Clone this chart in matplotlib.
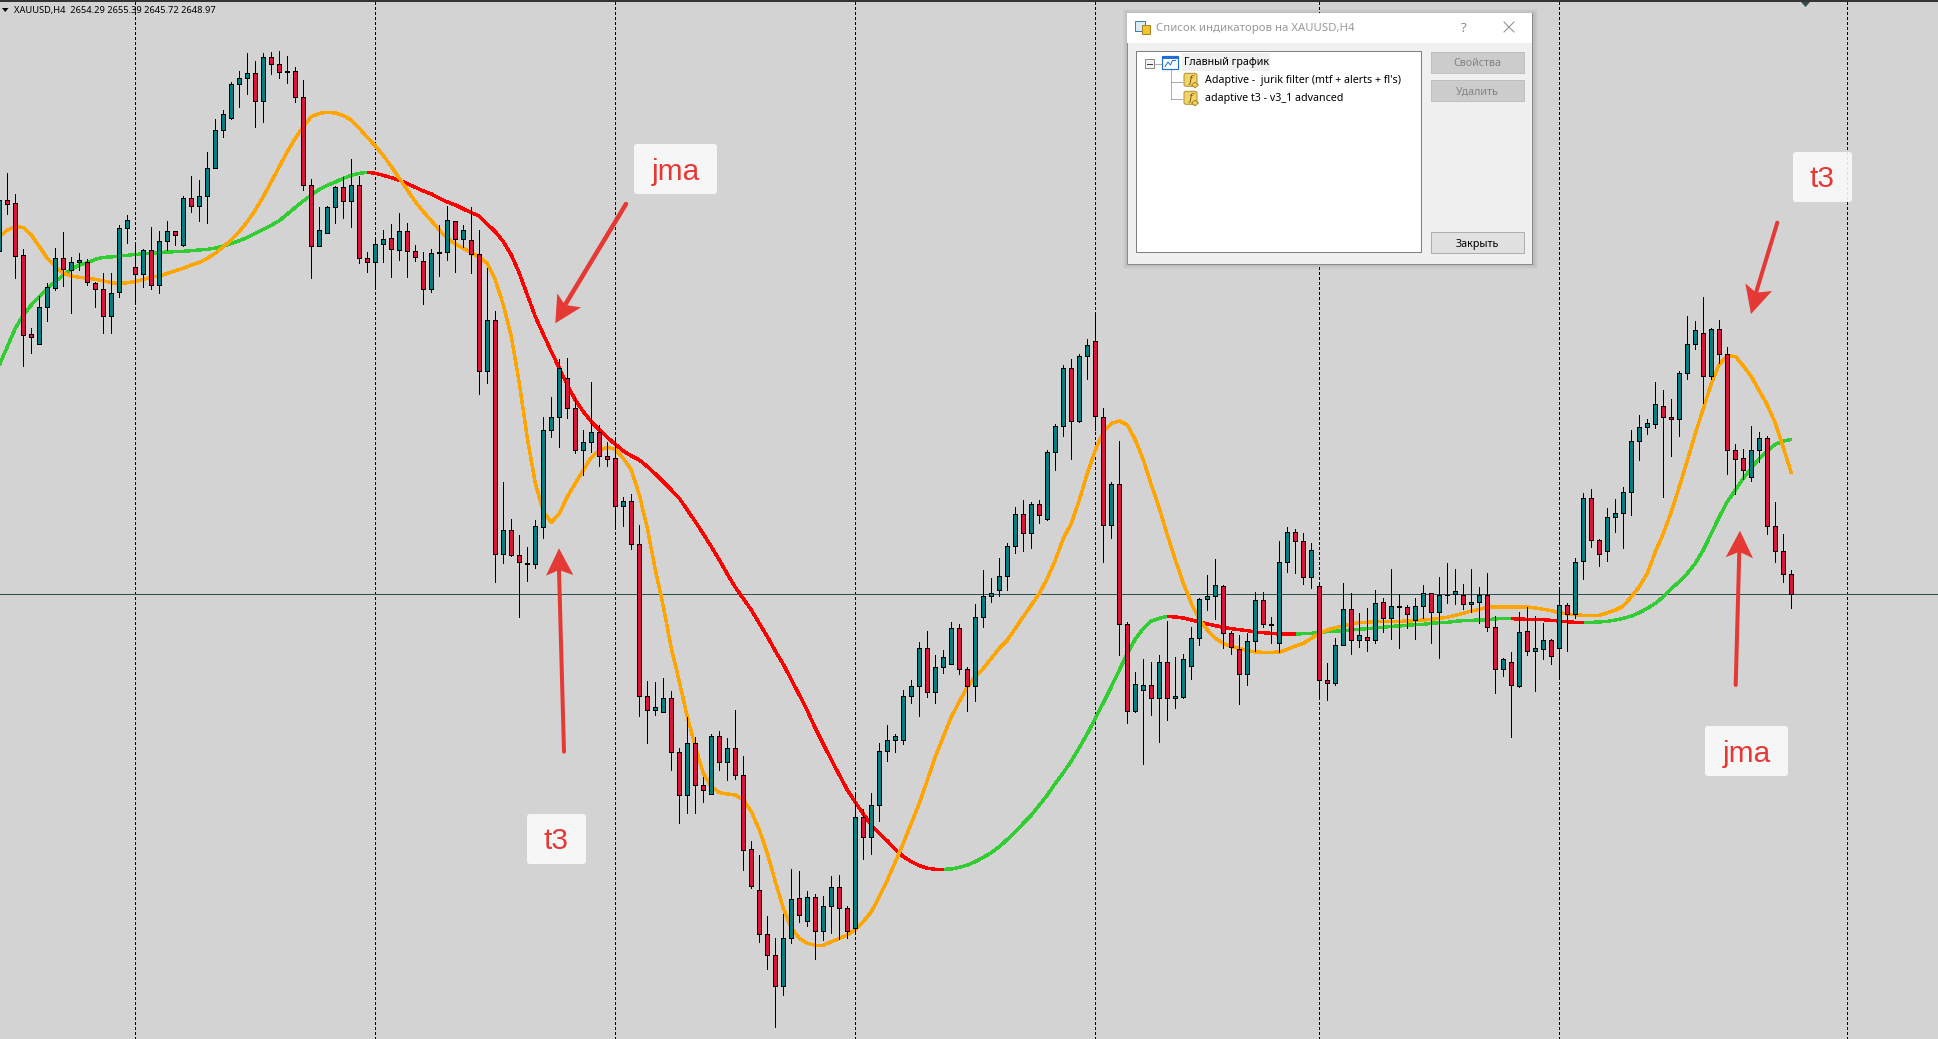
# -*- coding: utf-8 -*-
import numpy as np
import matplotlib
matplotlib.use('Agg')
import matplotlib.pyplot as plt
from matplotlib.patches import Rectangle, Polygon, FancyBboxPatch

# levels are chart ticks above the last close (about 11.55 ticks per USD)
LAST_CLOSE = 2648.97
TICKS_PER_USD = 11.55

symbol_text = 'XAUUSD,H4  2654.29 2655.39 2645.72 2648.97'
dialog_title = 'Список индикаторов на XAUUSD,H4'
tree_labels = ['Главный график', "Adaptive -  jurik filter (mtf + alerts + fl's)", 'adaptive t3 - v3_1 advanced']
button_labels = ['Свойства', 'Удалить', 'Закрыть']

body_top = [
    1183,1182,1173,1017,780,861,921,1008,1008,996,
    1002,996,933,915,903,1098,1122,981,1032,1032,
    1059,1089,1089,1188,1188,1194,1278,1392,1440,1530,
    1548,1563,1563,1611,1611,1590,1569,1569,1491,1227,
    1092,1161,1221,1221,1227,1227,1008,1050,1065,1068,
    1089,1089,1029,999,1023,1026,1122,1119,1092,1062,
    1020,822,822,192,192,117,95,204,492,531,
    678,648,558,456,486,486,414,408,279,279,
    150,-306,-339,-312,-312,-474,-447,-447,-573,-426,
    -426,-462,-462,-543,-765,-888,-1020,-1083,-1032,-915,
    -912,-909,-909,-936,-879,-879,-942,-669,-669,-633,
    -471,-438,-426,-306,-276,-162,-162,-219,-189,-102,
    -102,-225,-69,-6,3,54,144,240,240,270,
    270,426,504,678,678,714,747,759,531,330,
    330,-90,-270,-273,-273,-204,-204,-306,-195,-132,
    -15,-6,27,24,-117,-165,-141,-18,-18,-89,
    96,186,186,159,132,24,-258,-153,-45,-45,
    -123,-129,-27,-24,-36,-36,-39,-36,3,3,
    -3,-1,9,-3,-24,-3,-3,-99,-195,-204,
    -114,-111,-162,-138,-138,-33,-33,96,288,288,
    162,231,243,306,459,501,513,570,564,531,
    663,750,792,783,795,795,720,432,408,432,
    468,468,204,129,60]
body_bot = [
    1031,1172,1016,779,773,752,861,920,975,974,
    996,936,915,834,834,906,1098,960,960,927,
    927,1059,1077,1047,1164,1164,1194,1278,1392,1428,
    1530,1548,1479,1479,1590,1566,1566,1491,1227,1044,
    1044,1083,1161,1179,1179,1008,996,996,1050,1035,
    1032,1029,1011,915,915,1023,1026,1065,1065,1020,
    669,669,122,122,119,96,92,92,201,492,
    531,560,432,432,456,414,405,264,264,150,
    -306,-348,-348,-354,-474,-603,-603,-573,-586,-600,
    -504,-504,-543,-768,-874,-1020,-1083,-1176,-1176,-1032,
    -963,-981,-1011,-1011,-936,-942,-1011,-1002,-729,-729,
    -633,-471,-438,-438,-306,-276,-294,-294,-219,-210,
    -225,-276,-276,-69,-6,12,54,144,183,183,
    237,225,426,504,519,519,714,534,207,207,
    -90,-351,-351,-288,-312,-312,-312,-312,-309,-216,
    -132,-15,-6,-117,-159,-240,-240,-141,-90,-91,
    -147,96,159,51,51,-258,-267,-267,-153,-138,
    -138,-138,-138,-72,-72,-39,-60,-78,-36,-54,
    -54,-3,0,-30,-30,-24,-99,-225,-225,-273,
    -276,-171,-171,-165,-186,-162,-60,-60,99,162,
    122,129,231,243,306,459,501,510,531,525,
    525,663,750,654,654,720,432,405,372,351,
    432,204,129,60,0]
wick_high = [
    1263,1264,1201,1036,799,895,933,1039,1086,1013,
    1023,1005,936,963,963,1107,1138,1058,1035,1101,
    1089,1120,1089,1195,1255,1243,1326,1425,1453,1536,
    1570,1625,1600,1625,1627,1630,1615,1581,1543,1245,
    1161,1165,1225,1253,1305,1255,1026,1063,1093,1111,
    1143,1113,1047,1027,1035,1108,1165,1119,1108,1161,
    1093,978,849,336,226,178,141,222,531,591,
    705,708,591,492,637,507,456,465,291,301,
    208,-260,-263,-251,-290,-461,-369,-429,-549,-420,
    -411,-431,-347,-485,-741,-782,-965,-1032,-960,-824,
    -830,-891,-900,-906,-845,-842,-935,-597,-645,-597,
    -447,-392,-419,-288,-257,-144,-110,-182,-167,-83,
    -90,-219,-29,73,48,108,153,261,282,276,
    282,432,510,687,705,720,766,843,558,336,
    460,-84,-234,-195,-204,-183,-80,-189,-180,-99,
    -12,57,105,27,-111,-123,-117,6,6,-69,
    159,201,195,183,153,33,-207,-132,33,3,
    -57,-42,13,-12,75,0,-33,-12,28,3,
    51,93,75,31,75,21,63,-66,-192,-174,
    -53,-39,-66,-87,-135,18,-27,108,303,315,
    165,258,285,321,492,537,525,636,612,585,
    669,835,820,891,798,822,741,450,435,504,
    486,474,276,180,72]
wick_low = [
    1013,1141,950,686,725,752,821,914,926,845,
    973,929,863,783,785,893,1053,873,923,915,
    905,1033,1048,1046,1148,1121,1115,1278,1373,1425,
    1461,1502,1403,1418,1562,1550,1535,1476,1214,950,
    1044,1083,1115,1130,1103,993,968,925,998,953,
    1003,951,1001,872,908,956,1003,968,1043,965,
    601,633,38,95,115,-67,41,79,169,473,
    443,530,425,358,426,386,386,199,206,137,
    -365,-445,-361,-354,-527,-685,-655,-655,-622,-600,
    -527,-557,-555,-827,-880,-1042,-1123,-1297,-1201,-1045,
    -983,-994,-1093,-1037,-1015,-1035,-1032,-1017,-793,-778,
    -679,-499,-472,-448,-325,-364,-307,-325,-235,-210,
    -238,-349,-319,-97,-22,-4,13,125,131,140,
    215,222,373,476,407,516,647,493,98,170,
    -181,-387,-354,-509,-361,-442,-376,-340,-312,-255,
    -153,-47,-74,-160,-178,-328,-271,-171,-99,-147,
    -174,66,63,30,18,-305,-316,-273,-153,-180,
    -159,-171,-147,-114,-134,-162,-102,-134,-72,-145,
    -192,-25,-28,-45,-52,-85,-109,-295,-244,-427,
    -279,-181,-289,-194,-209,-252,-169,-71,47,143,
    86,101,188,140,239,404,482,500,293,416,
    476,645,737,573,645,693,362,300,346,339,
    396,182,96,36,-40]
falling_bars = [1,2,3,4,8,11,12,13,17,19,22,24,32,34,35,36,37,38,39,43,45,46,49,51,52,53,57,59,60,
                62,64,65,66,71,72,75,76,77,79,80,81,84,85,87,88,90,92,93,94,95,96,97,100,102,105,106,
                108,116,120,121,128,130,134,137,138,140,141,144,146,153,154,155,158,159,162,163,165,
                166,169,171,173,175,176,179,183,186,187,189,191,194,196,199,200,208,209,213,215,216,
                217,218,221,222,223,224]

t3_line = [
    1073,1093,1102,1101,1078,1043,1008,983,963,955,
    951,948,945,940,935,932,935,938,945,952,
    955,963,971,978,988,996,1008,1023,1043,1063,
    1088,1118,1153,1193,1238,1283,1328,1368,1403,1433,
    1443,1446,1444,1436,1423,1398,1371,1345,1316,1283,
    1248,1213,1178,1148,1121,1093,1068,1051,1038,1025,
    1011,993,943,868,773,633,468,333,248,216,
    243,293,333,373,411,433,441,435,408,373,
    298,198,73,-37,-162,-262,-369,-457,-537,-577,
    -595,-599,-602,-617,-652,-707,-777,-862,-942,-1002,
    -1032,-1047,-1053,-1053,-1042,-1032,-1022,-1005,-982,-952,
    -907,-857,-802,-747,-687,-627,-557,-487,-427,-367,
    -322,-277,-247,-222,-192,-162,-137,-102,-67,-32,
    3,48,103,168,213,283,363,433,488,513,
    520,508,463,403,328,258,178,103,33,-27,
    -77,-107,-132,-147,-157,-162,-169,-173,-174,-174,
    -173,-165,-155,-147,-132,-117,-107,-100,-94,-90,
    -84,-84,-82,-81,-81,-81,-80,-79,-77,-75,
    -72,-69,-63,-57,-50,-45,-39,-38,-38,-38,
    -38,-38,-41,-45,-49,-55,-59,-61,-63,-63,
    -63,-55,-47,-35,-7,23,63,128,183,248,
    323,403,483,558,633,691,715,714,685,653,
    610,568,513,440,363]
jma_line = [
    688,743,798,838,868,893,918,938,958,975,
    988,995,1005,1011,1012,1015,1017,1020,1021,1023,
    1025,1027,1028,1029,1031,1033,1035,1039,1045,1053,
    1061,1071,1083,1095,1107,1121,1141,1161,1180,1198,
    1215,1227,1237,1248,1257,1263,1266,1263,1257,1250,
    1242,1232,1221,1210,1201,1188,1177,1168,1156,1145,
    1135,1110,1088,1058,1018,963,898,833,780,728,
    678,628,583,548,518,493,471,450,430,415,
    403,383,361,338,313,288,253,218,181,143,
    103,61,21,-13,-47,-87,-127,-170,-210,-256,
    -302,-349,-402,-449,-497,-542,-587,-624,-659,-692,
    -717,-740,-765,-787,-802,-814,-822,-825,-825,-824,
    -819,-812,-802,-789,-775,-757,-735,-712,-687,-662,
    -632,-602,-567,-535,-500,-460,-418,-372,-325,-277,
    -227,-177,-134,-102,-80,-72,-66,-68,-71,-77,
    -83,-89,-94,-99,-103,-106,-109,-113,-115,-117,
    -119,-119,-119,-118,-117,-114,-112,-111,-109,-107,
    -105,-103,-101,-99,-96,-95,-93,-91,-90,-87,
    -85,-84,-81,-79,-78,-77,-76,-74,-72,-73,
    -74,-75,-75,-76,-78,-80,-82,-84,-84,-84,
    -83,-81,-77,-72,-65,-55,-42,-27,-7,18,
    38,63,93,133,183,233,278,313,348,378,
    408,431,450,460,465]
jma_falling = [(46, 118), (146, 162), (189, 198)]
period_bars = [17, 47, 77, 107, 137, 165, 195, 231]

BG = '#D3D3D3'
UP = '#008080'
DOWN = '#DC143C'
NOTE = '#E53935'
W, H = 1938, 1039
PX = 0.72


def to_price(levels):
    return LAST_CLOSE + np.asarray(levels, dtype=float) / TICKS_PER_USD


fig = plt.figure(figsize=(W / 100, H / 100), dpi=100, facecolor=BG)
ax = fig.add_axes([0, 0, 1, 1], facecolor=BG)
ax.set_xlim(0.084, 242.33)
ax.set_ylim(to_price(-1334), to_price(1783))
ax.axis('off')

bars = np.arange(len(body_top))
top = to_price(body_top)
bot = to_price(body_bot)
colors = [DOWN if i in falling_bars else UP for i in bars]

ax.vlines(period_bars, to_price(-1334), to_price(1777), colors='black', lw=PX,
          linestyles=[(0, (2.5, 2.5))], zorder=1, antialiased=False)
ax.axhline(LAST_CLOSE, color='#2F4F4F', lw=PX, zorder=2, antialiased=False)

# green rising / red falling, drawn jagged like the terminal does
LINE = dict(lw=PX * 2.4, solid_capstyle='butt', antialiased=False)
jma = to_price(jma_line)
ax.plot(bars, jma, color='#32CD32', zorder=3, **LINE)
for a, b in jma_falling:
    ax.plot(bars[a:b + 1], jma[a:b + 1], color='#FF0000', zorder=3.1, **LINE)
ax.plot(bars, to_price(t3_line), color='#FFA500', zorder=4, **LINE)

ax.vlines(bars, to_price(wick_low), to_price(wick_high), colors='black', lw=PX, zorder=5, antialiased=False)
ax.bar(bars, top - bot, bottom=bot, width=0.5, color=colors, edgecolor='black', linewidth=PX, zorder=6,
       antialiased=False)

# everything below sits on top of the chart, in screen coordinates
ui = fig.add_axes([0, 0, 1, 1], facecolor='none')
ui.set_xlim(0, W)
ui.set_ylim(H, 0)
ui.axis('off')

ui.plot([0, W], [1.2, 1.2], color='black', lw=PX * 1.5)
ui.add_patch(Polygon([(1801, 2), (1810, 2), (1805.5, 7)], closed=True, fc='#2F4F4F', ec='none'))
ui.add_patch(Polygon([(2, 8), (8.5, 8), (5.2, 12)], closed=True, fc='black', ec='none'))
ui.text(14, 10, symbol_text, fontsize=6.7, family='Noto Sans', color='black', va='center', ha='left')


def note_box(x0, x1, y0, y1, label, tx, ty):
    ui.add_patch(FancyBboxPatch((x0 + 3, y0 + 3), x1 - x0 - 6, y1 - y0 - 6,
                                boxstyle='round,pad=3,rounding_size=3', fc='#FAFAFA', ec='none', alpha=0.9))
    ui.text(tx, ty, label, fontsize=21.5, family='Liberation Sans', color=NOTE, ha='center', va='center')


def note_arrow(tail, tip, left, right, notch, width):
    ui.plot([tail[0], notch[0]], [tail[1], notch[1]], color=NOTE, lw=PX * width, solid_capstyle='round')
    ui.add_patch(Polygon([tip, left, notch, right], closed=True, fc=NOTE, ec='none'))


note_box(634, 717, 144, 194, 'jma', 675.5, 172)
note_box(527, 586, 814, 864, 't3', 556.5, 841)
note_box(1705, 1788, 726, 776, 'jma', 1747, 754)
note_box(1793, 1852, 152, 202, 't3', 1822.5, 179)
note_arrow((626, 204), (555.3, 323.3), (557.3, 293.3), (581, 307.3), (565, 305), 4.5)
note_arrow((564, 751.7), (559, 548.3), (546, 575.7), (573.3, 575), (559, 570), 4)
note_arrow((1735.7, 685), (1740, 530.7), (1725.7, 557.3), (1753, 558.3), (1739.3, 551.7), 4)
note_arrow((1777.3, 222.7), (1751, 314), (1745.3, 283.3), (1772, 291), (1756, 292.7), 4)

# indicator list window
for k in range(5, 0, -1):
    ui.add_patch(Rectangle((1126.7 - k + 1, 12.7 - k + 1), 405.6 + 2 * k, 250.5 + 2 * k,
                           fc='black', ec='none', alpha=0.025, zorder=10))
ui.add_patch(Rectangle((1126.7, 12.7), 405.6, 251, fc='#F0F0F0', ec='#8A8A8A', lw=PX, zorder=11))
ui.add_patch(Rectangle((1127.2, 13.2), 404.6, 29.5, fc='white', ec='none', zorder=12))
ui.add_patch(Rectangle((1135.7, 51.3), 285, 201, fc='white', ec='#7F7F7F', lw=PX, zorder=12))

DLG = dict(family='Noto Sans', va='center', ha='left', zorder=14)
ui.text(1156, 28.5, dialog_title, fontsize=8.2, color='#9A9A9A', **DLG)
ui.text(1464, 28, '?', fontsize=9.5, color='#8A8A8A', family='Noto Sans', va='center', ha='center', zorder=14)
ui.plot([1504, 1514], [22, 32], color='#8A8A8A', lw=PX, zorder=14)
ui.plot([1504, 1514], [32, 22], color='#8A8A8A', lw=PX, zorder=14)
# title icon
ui.add_patch(Rectangle((1135, 21), 10, 10, fc='#DCEBF7', ec='#3C7FB1', lw=PX, zorder=14))
ui.add_patch(Rectangle((1142, 25), 8.5, 8.5, fc='#F4C430', ec='#A8861E', lw=PX, zorder=15))

# tree
ui.add_patch(Rectangle((1182, 53), 88, 18, fc='#F0F0F0', ec='none', zorder=13))
ui.text(1184, 63, tree_labels[0], fontsize=7.7, color='black', **DLG)
ui.text(1204.7, 81, tree_labels[1], fontsize=7.7, color='black', **DLG)
ui.text(1204.7, 99, tree_labels[2], fontsize=7.7, color='black', **DLG)
ui.add_patch(Rectangle((1145.3, 59.3), 8.7, 8.4, fc='#F2F2F2', ec='#8A8A8A', lw=PX, zorder=14))
ui.plot([1147, 1152.3], [63.5, 63.5], color='#404040', lw=PX, zorder=15)
dots = dict(color='#606060', lw=PX, linestyle=(0, (1, 1)), zorder=13)
ui.plot([1154.7, 1161.7], [63.5, 63.5], **dots)
ui.plot([1170.7, 1170.7], [70, 99.3], **dots)
ui.plot([1170.7, 1182], [81.7, 81.7], **dots)
ui.plot([1170.7, 1182], [99.3, 99.3], **dots)
# chart icon
ui.add_patch(Rectangle((1162.5, 55.5), 15.3, 13, fc='white', ec='#1F6FD6', lw=PX * 1.2, zorder=14))
ui.add_patch(Rectangle((1162.5, 55.5), 15.3, 3, fc='#1F6FD6', ec='none', zorder=15))
ui.plot([1165, 1168, 1170.5, 1172.5, 1175.5], [66.5, 62, 65, 60.5, 60.5], color='#1F6FD6', lw=PX, zorder=15)
# f icons
for y0 in (73.3, 91.3):
    ui.add_patch(FancyBboxPatch((1185, y0 + 1), 11, 11, boxstyle='round,pad=1,rounding_size=2',
                                fc='#F3D36B', ec='#B0902C', lw=PX, zorder=14))
    ui.text(1190.5, y0 + 6.5, 'f', fontsize=8, style='italic', family='DejaVu Serif', color='#7A5C00',
            ha='center', va='center', zorder=15)
    ui.add_patch(Polygon([(1195, y0 + 9), (1198.5, y0 + 11.5), (1195, y0 + 14.5), (1191.5, y0 + 11.5)],
                         closed=True, fc='#F3D36B', ec='#A8861E', lw=PX, zorder=16))

# buttons
for (y0, y1), label, fc, ec, tc in zip([(52, 72.7), (80, 100.7), (232.3, 252.7)], button_labels,
                                       ['#CCCCCC', '#CCCCCC', '#E1E1E1'], ['#BFBFBF', '#BFBFBF', '#ADADAD'],
                                       ['#838383', '#838383', 'black']):
    ui.add_patch(Rectangle((1431, y0), 92.7, y1 - y0, fc=fc, ec=ec, lw=PX, zorder=12))
    ui.text(1477.3, (y0 + y1) / 2 + 1.5, label, fontsize=7.7, color=tc, family='Noto Sans', ha='center', va='center', zorder=14)

fig.savefig('out.png', dpi=100, facecolor=BG)
